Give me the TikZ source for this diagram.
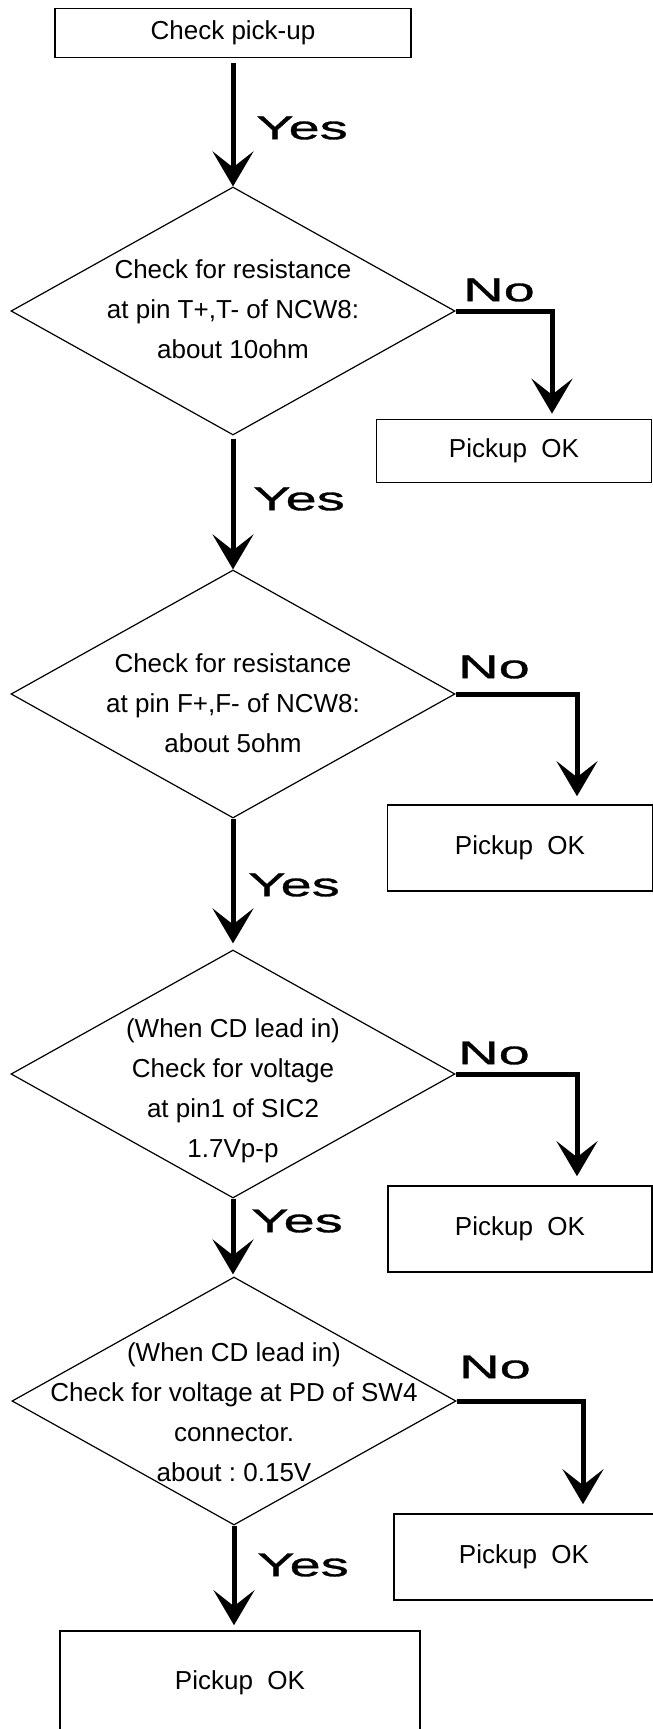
\documentclass[tikz,border=0pt]{standalone}
\usepackage{fontspec}
\setmainfont{Liberation Sans}
\newfontfamily\ynfont{Liberation Sans}[FakeStretch=1.7,FakeBold=1]
\usetikzlibrary{shapes.geometric,arrows.meta}
\frenchspacing

\tikzset{
  stepbox/.style={draw, line width=1.6pt, inner sep=0pt},
  decide/.style={draw, diamond, line width=1.2pt, inner sep=0pt,
    minimum width=444pt, minimum height=248pt},
  dtext/.style={align=center, inner sep=0pt},
  flow/.style={line width=5pt, -{Stealth[length=35pt,width=41pt,inset=16pt]}},
  yn/.style={font=\ynfont\fontsize{33}{33}\selectfont, inner sep=0pt}
}

\begin{document}
\begin{tikzpicture}[x=1pt, y=-1pt, font=\fontsize{26}{40}\selectfont]
  \clip (0,0) rectangle (653,1729);

  % main column
  \node[stepbox, minimum width=356pt, minimum height=49pt] (start) at (233,33) {Check pick-up};
  \node[decide] (d1) at (233,311) {};
  \node[dtext] (t1) at (233,309) {Check for resistance\\at pin T+,T- of NCW8:\\about 10ohm};
  \node[decide] (d2) at (233,694) {};
  \node[dtext] (t2) at (233,703) {Check for resistance\\at pin F+,F- of NCW8:\\about 5ohm};
  \node[decide] (d3) at (233,1074) {};
  \node[dtext] (t3) at (233,1091) {(When CD lead in)\\Check for voltage\\at pin1 of SIC2\\1.7Vp-p};
  \node[decide] (d4) at (234,1401) {};
  \node[dtext] (t4) at (234,1412) {(When CD lead in)\\Check for voltage at PD of SW4\\connector.\\about : 0.15V};
  \node[stepbox, minimum width=360pt, minimum height=104pt] (fin) at (240,1683) {Pickup\ \ OK};

  % side boxes
  \node[stepbox, minimum width=275pt, minimum height=63pt] (b1) at (514,451) {Pickup\ \ OK};
  \node[stepbox, minimum width=265pt, minimum height=86pt] (b2) at (520,848) {Pickup\ \ OK};
  \node[stepbox, minimum width=264pt, minimum height=86pt] (b3) at (520,1229) {Pickup\ \ OK};
  \node[stepbox, minimum width=260pt, minimum height=86pt] (b4) at (524,1557) {Pickup\ \ OK};

  % yes / no
  \node[yn] (y1) at (302,128) {Yes};
  \node[yn] (y2) at (299,499) {Yes};
  \node[yn] (y3) at (294,885) {Yes};
  \node[yn] (y4) at (297,1221) {Yes};
  \node[yn] (y5) at (303,1565) {Yes};
  \node[yn] (n1) at (499,290) {No};
  \node[yn] (n2) at (494,667) {No};
  \node[yn] (n3) at (494,1053) {No};
  \node[yn] (n4) at (495,1367) {No};

  \draw[flow, shorten <=5pt] (start.south) -- (d1.north);
  \draw[flow, shorten <=3pt] (d1.south) -- (d2.north);
  \draw[flow, shorten >=6pt] (d2.south) -- (d3.north);
  \draw[flow, shorten >=2pt] (d3.south) -- (d3.south |- d4.north);
  \draw[flow, shorten >=5pt] (d4.south) -- (d4.south |- fin.north);

  \draw[flow] (d1.east) -| ([xshift=38pt,yshift=5pt]b1.north);
  \draw[flow] (d2.east) -| ([xshift=57pt,yshift=8pt]b2.north);
  \draw[flow] (d3.east) -| ([xshift=57pt,yshift=9pt]b3.north);
  \draw[flow] (d4.east) -| ([xshift=59pt,yshift=9pt]b4.north);
\end{tikzpicture}
\end{document}
